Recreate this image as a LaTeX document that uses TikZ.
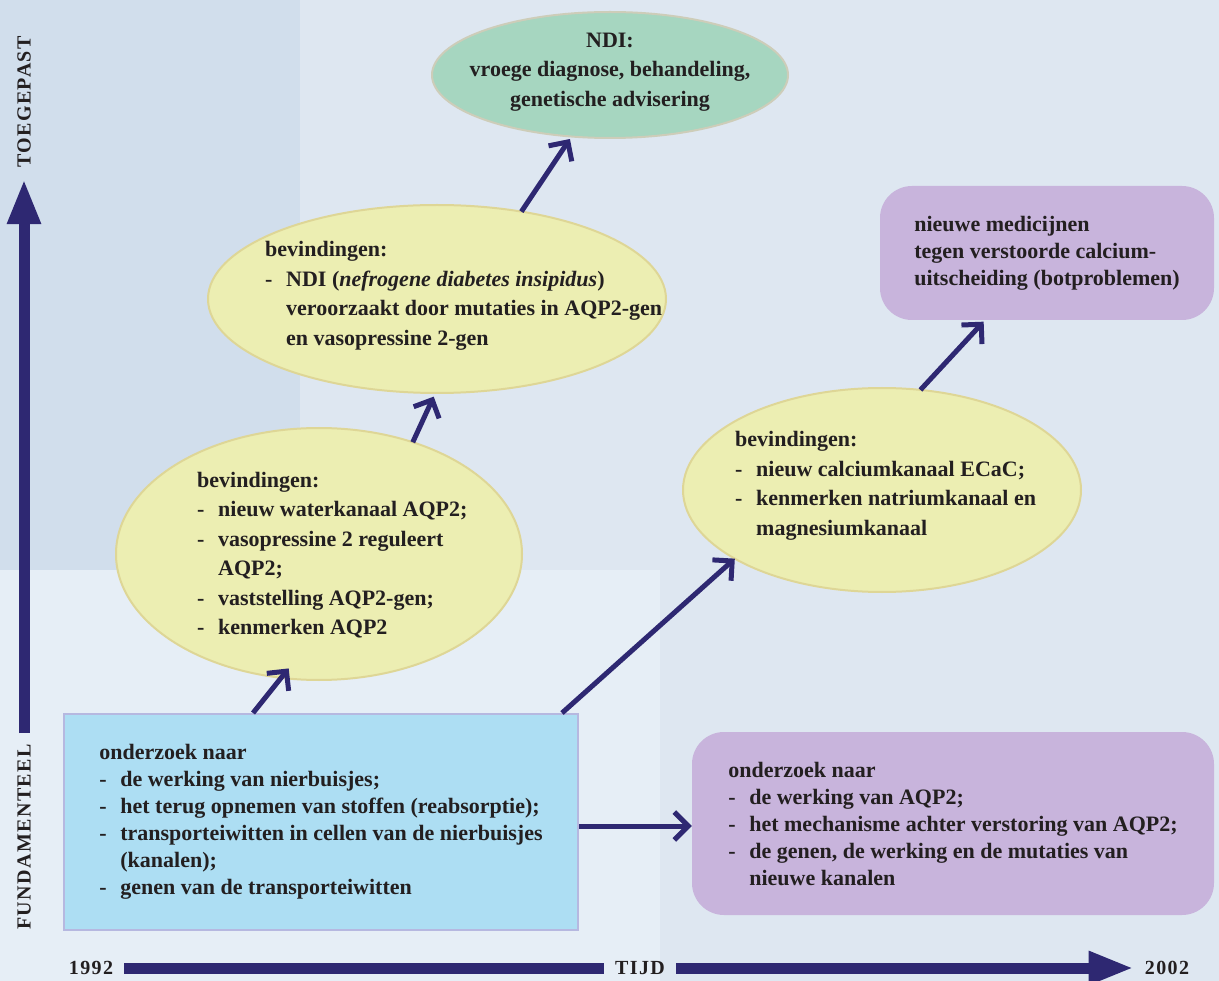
\documentclass[tikz,border=0pt]{standalone}
\usepackage{fontspec}
\setmainfont{Liberation Serif}
\newfontfamily\asfont[LetterSpace=7]{Liberation Serif}
\usetikzlibrary{shapes.geometric}
\usetikzlibrary{arrows.meta}

\definecolor{navy}{RGB}{46,40,114}
\definecolor{inkt}{RGB}{35,31,32}
\definecolor{bgbase}{RGB}{222,231,241}
\definecolor{bgleft}{RGB}{209,222,236}
\definecolor{bglow}{RGB}{230,238,246}
\definecolor{boxblue}{RGB}{173,222,243}
\definecolor{boxrand}{RGB}{182,184,224}
\definecolor{paars}{RGB}{200,180,220}
\definecolor{geel}{RGB}{236,238,178}
\definecolor{geelrand}{RGB}{222,214,150}
\definecolor{groen}{RGB}{166,214,192}
\definecolor{groenrand}{RGB}{205,205,185}

\newcommand{\streep}{\makebox[21pt][l]{-}}
\newcommand{\inspring}{\hspace*{21pt}}

\tikzset{
 tekst/.style={text=inkt, font=\bfseries\fontsize{22}{27}\selectfont, align=left},
 ovaaltekst/.style={tekst, font=\bfseries\fontsize{22}{29.5}\selectfont, inner sep=0},
 blauwvak/.style={tekst, rectangle, fill=boxblue, draw=boxrand, line width=2pt},
 paarsvak/.style={tekst, rectangle, rounded corners=32, fill=paars},
 ovaal/.style={ellipse, fill=geel, draw=geelrand, line width=2pt, inner sep=0, outer sep=0},
 groenovaal/.style={ovaal, fill=groen, draw=groenrand},
 pijl/.style={navy, line width=5pt, ->, >={Straight Barb[length=14pt,width=28pt]}},
 tijdas/.style={navy, line width=11pt, >={Triangle[length=45pt,width=31pt]}},
 aslabel/.style={text=inkt, font=\asfont\bfseries\fontsize{20}{22}\selectfont, inner sep=11}
}

\begin{document}
\begin{tikzpicture}[x=1pt,y=-1pt]
\useasboundingbox (0,0) rectangle (1219,981);
\fill[bgbase] (0,0) rectangle (1219,981);
\fill[bgleft] (0,0) rectangle (300,570);
\fill[bglow] (0,570) rectangle (660,981);

% vakken
\node[blauwvak, minimum width=514, minimum height=216] (basis) at (321,822)
 {onderzoek naar\\
  \streep de werking van nierbuisjes;\\
  \streep het terug opnemen van stoffen (reabsorptie);\\
  \streep transporteiwitten in cellen van de nierbuisjes\\
  \inspring (kanalen);\\
  \streep genen van de transporteiwitten};
\node[paarsvak, minimum width=522, minimum height=183] (verder) at (953,823.5)
 {onderzoek naar\\
  \streep de werking van AQP2;\\
  \streep het mechanisme achter verstoring van AQP2;\\
  \streep de genen, de werking en de mutaties van\\
  \inspring nieuwe kanalen};
\node[paarsvak, minimum width=334, minimum height=134] (medicijn) at (1047,253)
 {nieuwe medicijnen\\ tegen verstoorde calcium-\\ uitscheiding (botproblemen)};

% ovalen
\node[groenovaal, minimum width=356, minimum height=126] (ndi) at (610,75) {};
\node[ovaaltekst, align=center] (nditekst) at (610,72)
 {NDI:\\ vroege diagnose, behandeling,\\ genetische advisering};
\node[ovaal, minimum width=406, minimum height=252] (vondst1) at (319,554) {};
\node[ovaaltekst, anchor=west] (vondst1tekst) at (197,555)
 {bevindingen:\\
  \streep nieuw waterkanaal AQP2;\\
  \streep vasopressine 2 reguleert\\
  \inspring AQP2;\\
  \streep vaststelling AQP2-gen;\\
  \streep kenmerken AQP2};
\node[ovaal, minimum width=458, minimum height=188] (vondst2) at (437,299) {};
\node[ovaaltekst, anchor=west] (vondst2tekst) at (265,296)
 {bevindingen:\\
  \streep NDI (\textit{nefrogene diabetes insipidus})\\
  \inspring veroorzaakt door mutaties in AQP2-gen\\
  \inspring en vasopressine 2-gen};
\node[ovaal, minimum width=398, minimum height=204] (vondst3) at (882,490) {};
\node[ovaaltekst, anchor=west] (vondst3tekst) at (735,486)
 {bevindingen:\\
  \streep nieuw calciumkanaal ECaC;\\
  \streep kenmerken natriumkanaal en\\
  \inspring magnesiumkanaal};

% pijlen
\draw[pijl, shorten >=-12pt] ([xshift=-68]basis.north) -- (vondst1.253.4);
\draw[pijl] ([xshift=241]basis.north) -- (vondst3.205.5);
\draw[pijl] ([yshift=-4]basis.east) -- ([yshift=-4]basis.east -| verder.west);
\draw[pijl, shorten >=4pt] (vondst1.50) -- (vondst2.269);
\draw[pijl, shorten >=3pt] (vondst2.46) -- (ndi.238);
\draw[pijl, shorten >=2pt] (vondst3.69) -- ([xshift=-62]medicijn.south);

% assen
\node[aslabel, rotate=90] (fund) at (24,837) {FUNDAMENTEEL};
\node[aslabel, rotate=90] (toeg) at (24,102) {TOEGEPAST};
\node[aslabel] (jaar1) at (91,968) {1992};
\node[aslabel] (tijd) at (640,968) {TIJD};
\node[aslabel] (jaar2) at (1167,968) {2002};
\draw[tijdas, ->] (fund.east) -- (toeg.west);
\draw[tijdas] (jaar1.east) -- (tijd.west);
\draw[tijdas, ->] (tijd.east) -- (jaar2.west);
\end{tikzpicture}
\end{document}
